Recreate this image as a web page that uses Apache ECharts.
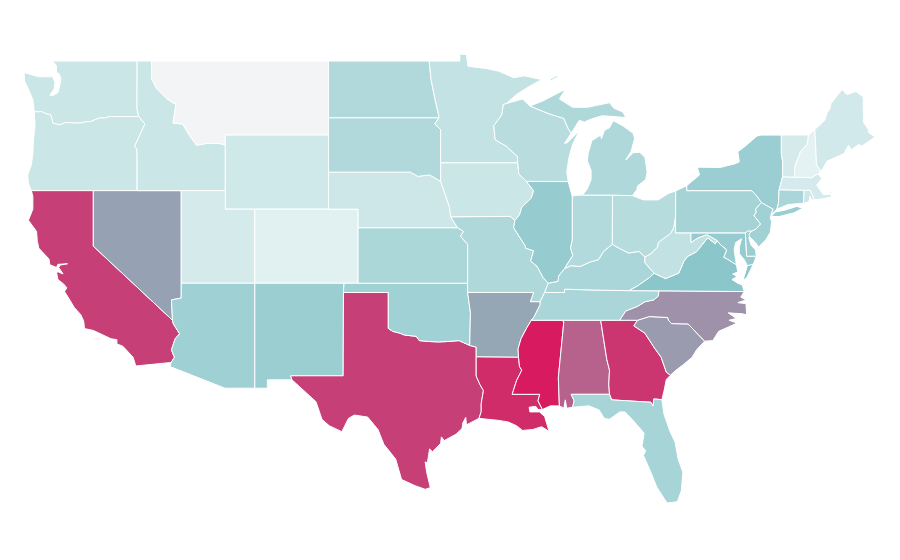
<!DOCTYPE html>
<html lang="en">
<head>
    <meta charset="utf-8">
    <title>USA map</title>
    <style>html,body{margin:0;background:#fff}</style>
</head>
<body>
<div id="main" style="width: 900px;height:560px;"></div>

<script src="https://cdn.jsdelivr.net/npm/echarts@6/dist/echarts.min.js"></script>
<script>
    // values, same order as the states. Montana has no value
    var stateNames = ['Washington','Oregon','California','Nevada','Idaho','Montana','Wyoming','Utah','Colorado','Arizona',
        'New Mexico','Texas','Oklahoma','Kansas','Nebraska','South Dakota','North Dakota','Minnesota','Iowa','Missouri',
        'Arkansas','Louisiana','Mississippi','Alabama','Georgia','Florida','South Carolina','North Carolina','Tennessee','Kentucky',
        'Virginia','West Virginia','Maryland','Delaware','Pennsylvania','New Jersey','New York','Connecticut','Rhode Island','Massachusetts',
        'Vermont','New Hampshire','Maine','Ohio','Indiana','Illinois','Wisconsin','Michigan'];
    var stateValues = [21.5,21.5,89,60,21.5,null,19.8,17.8,12.4,39.7,
        41.7,89,39.3,34.3,20.7,32.2,32.2,24.8,21.5,33,
        59,95,100,79,92,36.8,62,65,35,35,
        48.3,25.6,43.4,41.3,37.2,39.3,41.3,35,20.7,17.4,
        17.8,11,18.6,29.8,31.8,43.4,28.9,33];
    var scaleColors = ['#ffffff', '#86c4c8', '#d81b60'];

    // state borders as shared lon,lat lines, so neighbours use the same edge
    var arcs = {
        wa_top: '-122.76,49 -117.03,49',
        wa_id: '-117.03,49 -117.04,46.42 -116.92,46',
        wa_or: '-124,46.25 -123.5,46.27 -123.2,46.15 -122.9,46.1 -122.8,45.85 -122.75,45.65 -122.3,45.55 -121.9,45.68 -121.2,45.65 -120.9,45.65 -120.5,45.72 -120.2,45.73 -119.6,45.92 -119.1,45.93 -118.98,46 -116.92,46',
        wa_coast: '-122.76,49 -122.5,48.75 -122.5,48.4 -122.3,48.3 -122.2,48 -122.3,47.6 -122.4,47.3 -122.7,47.15 -122.95,47.15 -122.65,47.5 -122.6,47.85 -122.75,48.15 -123.1,48.15 -123.7,48.15 -124.7,48.38 -124.65,47.9 -124.3,47.3 -124.1,46.9 -124.05,46.3 -124,46.25',
        or_coast: '-124,46.25 -123.95,45.5 -124.05,44.8 -124.1,44 -124.2,43.4 -124.45,42.85 -124.4,42.4 -124.2,42',
        or_ca: '-120,42 -124.2,42',
        or_nv: '-117.03,42 -120,42',
        or_id: '-116.92,46 -116.5,45.6 -116.85,45 -117.2,44.4 -117.05,44.25 -117.03,43.8 -117.03,42',
        id_nv: '-117.03,42 -114.04,42',
        id_ut: '-114.04,42 -111.05,42',
        id_top: '-117.03,49 -116.05,49',
        id_mt: '-116.05,49 -116.05,48.05 -115.7,47.5 -115,46.95 -114.4,46.65 -114.6,45.65 -113.95,45.6 -113.45,44.95 -113,44.45 -112.3,44.55 -111.5,44.55 -111.05,44.48',
        id_wy: '-111.05,44.48 -111.05,42',
        mt_top: '-116.05,49 -104.05,49',
        mt_wy: '-104.05,45 -111.05,45 -111.05,44.48',
        mt_nd: '-104.05,49 -104.05,45.94',
        mt_sd: '-104.05,45.94 -104.05,45',
        sd_wy: '-104.05,45 -104.05,43',
        ne_wy: '-104.05,43 -104.05,41',
        wy_ut: '-111.05,42 -111.05,41 -109.05,41',
        wy_co: '-109.05,41 -104.05,41',
        ut_co: '-109.05,41 -109.05,37',
        az_ut: '-109.05,37 -114.04,37',
        nv_ut: '-114.04,42 -114.04,37',
        nv_az: '-114.04,37 -114.04,36.2 -114.7,36.1 -114.63,35',
        ca_nv: '-120,42 -120,39 -114.63,35',
        ca_az: '-114.63,35 -114.57,34.8 -114.15,34.27 -114.45,34 -114.7,33.4 -114.5,33 -114.72,32.72',
        ca_coast: '-124.2,42 -124.1,41.7 -124.1,41 -124.4,40.4 -123.85,39.8 -123.8,39.3 -123.7,38.9 -123,38.3 -122.95,38 -122.5,37.85 -122.4,38.02 -121.75,38.05 -122.25,37.98 -122.35,37.85 -122.05,37.5 -122.35,37.6 -122.5,37.6 -122.4,37.2 -122,36.95 -121.8,36.75 -121.95,36.55 -121.6,36.1 -121.3,35.7 -120.85,35.3 -120.65,34.95 -120.6,34.55 -120,34.45 -119.2,34.15 -118.8,34 -118.4,33.95 -118.4,33.72 -118,33.6 -117.3,33 -117.12,32.53 -114.72,32.72',
        az_south: '-114.72,32.72 -114.8,32.5 -111.07,31.33 -109.05,31.33',
        az_nm: '-109.05,37 -109.05,31.33',
        nm_co: '-103,37 -109.05,37',
        ok_co: '-102.05,37 -103,37',
        ks_co: '-102.05,40 -102.05,37',
        ne_co: '-104.05,41 -102.05,41 -102.05,40',
        nm_mex: '-109.05,31.33 -108.2,31.33 -108.2,31.78 -106.53,31.78',
        nm_tx: '-106.53,31.78 -106.62,32 -103.06,32 -103.04,36.5',
        nm_ok: '-103.04,36.5 -103,37',
        tx_ok: '-103.04,36.5 -100,36.5 -100,34.56 -99.7,34.4 -99.2,34.3 -98.9,34.2 -98.1,34.13 -97.9,33.9 -97.2,33.85 -96.6,33.83 -96,33.85 -95.2,33.9 -94.48,33.64',
        tx_ar: '-94.48,33.64 -94.04,33.55 -94.04,33.02',
        tx_la: '-94.04,33.02 -94.04,31.99 -93.8,31.55 -93.55,31.2 -93.7,30.5 -93.7,30.06 -93.85,29.7',
        tx_coast: '-93.85,29.7 -94.7,29.35 -94.75,29.75 -94.95,29.45 -95,29.15 -95.4,28.85 -96.2,28.5 -96.4,28.7 -96.45,28.35 -97,27.9 -97.2,28.05 -97.35,27.3 -97.5,27.35 -97.4,26.8 -97.15,25.96',
        tx_mex: '-97.15,25.96 -97.5,25.87 -98.2,26.07 -99.1,26.4 -99.5,27.5 -100.3,28.3 -100.7,29.1 -101.4,29.77 -102.3,29.88 -102.7,29.7 -103.15,28.98 -104,29.3 -104.5,29.65 -104.9,30.6 -106,31.4 -106.53,31.78',
        ok_ar: '-94.62,36.5 -94.43,35.4 -94.48,33.64',
        mo_ok: '-94.62,36.5 -94.62,37',
        ks_ok: '-94.62,37 -102.05,37',
        ks_mo: '-94.62,37 -94.62,39.1 -94.9,39.35 -95.1,39.55 -94.9,39.8 -95.3,40',
        ne_ks: '-95.3,40 -102.05,40',
        ne_mo: '-95.3,40 -95.77,40.58',
        ne_ia: '-95.77,40.58 -95.85,41.1 -96.1,41.7 -96.45,42.5',
        sd_ne: '-96.45,42.5 -97.2,42.85 -98,42.77 -98.5,43 -104.05,43',
        sd_ia: '-96.45,42.5 -96.45,43.5',
        sd_nd: '-96.56,45.94 -104.05,45.94',
        sd_mn: '-96.56,45.94 -96.85,45.6 -96.45,45.3 -96.45,43.5',
        nd_top: '-104.05,49 -97.23,49',
        nd_mn: '-97.23,49 -97.1,48 -96.85,47 -96.56,46 -96.56,45.94',
        mn_north: '-92,46.7 -91.3,47.2 -90.4,47.65 -89.6,48 -90.8,48.2 -91.5,48.1 -92.5,48.45 -93.4,48.6 -94.6,48.72 -94.7,49.35 -95.15,49.38 -95.15,49 -97.23,49',
        ia_mn: '-91.22,43.5 -96.45,43.5',
        mn_wi: '-91.22,43.5 -91.25,43.85 -92,44.4 -92.75,44.75 -92.85,45.5 -92.3,46.1 -92.2,46.65 -92,46.7',
        ia_wi: '-90.64,42.5 -91.15,42.9 -91.22,43.5',
        ia_il: '-91.42,40.38 -91.1,40.7 -90.95,41.1 -90.3,41.6 -90.15,42 -90.64,42.5',
        ia_mo: '-95.77,40.58 -91.73,40.61 -91.42,40.38',
        il_mo: '-91.42,40.38 -91.5,40 -90.7,39 -90.7,38.9 -90.15,38.75 -90.35,38.2 -89.9,37.9 -89.5,37.3 -89.15,37',
        ky_mo: '-89.15,37 -89.4,36.5',
        tn_mo: '-89.4,36.5 -89.7,36',
        mo_ar: '-89.7,36 -90.37,36 -90.15,36.5 -94.62,36.5',
        ar_tn: '-89.7,36 -89.7,35.85 -90.1,35.2 -90.3,35',
        ar_ms: '-90.3,35 -90.6,34.6 -91,34 -91.2,33.45 -91.17,33',
        ar_la: '-94.04,33.02 -91.17,33',
        la_ms: '-91.17,33 -91.1,32.5 -90.95,32.3 -91.3,31.75 -91.6,31 -89.73,31 -89.85,30.65 -89.55,30.18',
        la_coast: '-93.85,29.7 -92.6,29.6 -92.2,29.55 -91.85,29.5 -91.3,29.3 -90.9,29.05 -90.2,29.1 -89.6,29.25 -89.1,29 -89.4,29.8 -89.75,30.05 -90.4,30.05 -90.45,30.3 -90,30.35 -89.85,30.18 -89.55,30.18',
        ms_coast: '-89.55,30.18 -89,30.38 -88.4,30.37',
        ms_al: '-88.4,30.37 -88.47,31.9 -88.1,34.9 -88.2,35',
        ms_tn: '-90.3,35 -88.2,35',
        al_tn: '-88.2,35 -85.6,35',
        ga_tn: '-85.6,35 -84.32,35',
        ga_nc: '-84.32,35 -83.1,35',
        al_ga: '-85.6,35 -85.18,32.87 -85,32.3 -85.05,31.55 -85,31',
        al_fl: '-85,31 -87.6,31 -87.4,30.65 -87.5,30.3',
        al_coast: '-88.4,30.37 -88.1,30.25 -88,30.7 -87.9,30.25 -87.5,30.3',
        ga_fl: '-85,31 -84.86,30.7 -82.2,30.57 -82.05,30.36 -82,30.75 -81.45,30.71',
        fl_coast: '-81.45,30.71 -81.3,29.9 -80.9,29 -80.55,28.4 -80.35,27.5 -80.03,26.8 -80.13,25.8 -80.4,25.2 -81.1,25.13 -81.8,26 -82.2,26.8 -82.7,27.7 -82.55,27.95 -82.8,28.2 -82.65,28.9 -83.3,29.5 -83.95,30.05 -84.3,30.05 -85,29.65 -85.35,29.7 -85.7,30.15 -86.4,30.38 -87.5,30.3',
        ga_coast: '-81.45,30.71 -81.3,31.2 -81.15,31.8 -80.87,32.03',
        ga_sc: '-80.87,32.03 -81.15,32.2 -81.5,33 -81.95,33.5 -82.6,34.3 -83.35,34.7 -83.1,35',
        nc_sc: '-83.1,35 -82.3,35.2 -81.05,35.15 -81,35 -80.8,34.82 -79.67,34.8 -78.55,33.87',
        sc_coast: '-78.55,33.87 -79.1,33.4 -79.4,33 -80,32.6 -80.5,32.3 -80.87,32.03',
        nc_coast: '-78.55,33.87 -78,33.9 -77.6,34.4 -76.9,34.65 -76.35,34.85 -76.9,35 -76.4,35.1 -76.95,35.4 -76,35.35 -75.7,35.3 -75.75,35.9 -76.3,35.95 -75.75,36.1 -76.1,36.25 -75.87,36.55',
        va_nc: '-75.87,36.55 -81.65,36.59',
        tn_nc: '-81.65,36.59 -81.7,36.3 -82,36.1 -82.6,36 -83.1,35.75 -83.9,35.5 -84.32,35',
        va_tn: '-81.65,36.59 -83.68,36.6',
        va_ky: '-83.68,36.6 -83.1,36.85 -82.3,37.3 -81.97,37.54',
        ky_tn: '-89.4,36.5 -88.06,36.5 -88.05,36.68 -86,36.63 -83.68,36.6',
        wv_va: '-81.97,37.54 -81.2,37.25 -80.3,37.55 -79.95,38.2 -79.7,38.45 -79.1,38.7 -78.35,39.45 -77.83,39.13 -77.72,39.32',
        md_va: '-77.72,39.32 -77.5,39.1 -77.05,38.8 -77.25,38.4 -77,38.3 -76.4,38',
        va_coast: '-76.4,38 -76.3,37.6 -76.65,37.5 -76.35,37.35 -76.7,37.2 -76.3,37 -76,36.9 -75.87,36.55',
        md_wv: '-79.48,39.72 -79.48,39.2 -79,39.45 -78.4,39.62 -77.72,39.32',
        pa_wv2: '-80.52,39.72 -79.48,39.72',
        pa_wv1: '-80.52,40.64 -80.52,39.72',
        pa_md: '-79.48,39.72 -75.79,39.72',
        pa_oh: '-80.52,41.98 -80.52,40.64',
        wv_oh: '-80.52,40.64 -80.65,40 -80.85,39.7 -81.7,39.2 -81.75,38.95 -82.2,38.6 -82.6,38.42',
        ky_wv: '-82.6,38.42 -82.6,38.1 -81.97,37.54',
        ky_oh: '-82.6,38.42 -83,38.72 -83.7,38.63 -84.25,38.85 -84.82,39.1',
        ky_in: '-84.82,39.1 -85.4,38.72 -85.75,38.27 -86.3,38.15 -87,37.9 -87.6,37.95 -88.05,37.8',
        ky_il: '-88.05,37.8 -88.45,37.4 -88.5,37.1 -89.15,37',
        wi_north: '-92,46.7 -90.9,46.95 -90.4,46.57',
        wi_mi: '-90.4,46.57 -89.1,46.15 -88.1,45.9 -87.8,45.35 -87.6,45.1',
        wi_east: '-87.6,45.1 -88.05,44.55 -87.85,44.6 -87.05,45.25 -87.5,44.5 -87.75,43.8 -87.9,43 -87.8,42.49',
        wi_il: '-87.8,42.49 -90.64,42.5',
        il_lake: '-87.8,42.49 -87.55,41.75 -87.53,41.7',
        il_in: '-87.53,41.7 -87.53,39.35 -87.65,38.9 -87.5,38.5 -88.05,37.8',
        in_lake: '-87.53,41.7 -87.2,41.75 -86.82,41.76',
        in_mi: '-86.82,41.76 -84.8,41.76',
        in_oh: '-84.8,41.76 -84.82,39.1',
        mi_oh: '-84.8,41.76 -83.45,41.73',
        mi_lower: '-86.82,41.76 -86.5,42.1 -86.25,42.6 -86.25,43.1 -86.5,43.6 -86.45,44 -86.2,44.7 -85.6,45 -85.55,44.8 -85.35,45.25 -85,45.4 -84.75,45.78 -84.1,45.5 -83.4,45.1 -83.3,44.8 -83.55,44.1 -83.9,43.65 -83.4,44.05 -82.95,44.07 -82.6,43.8 -82.45,43 -82.55,42.6 -83.1,42.25 -83.15,42.05 -83.45,41.73',
        up_coast: '-90.4,46.57 -89.5,46.85 -88.9,47.1 -88,47.47 -88.4,46.95 -87.5,46.5 -86.5,46.5 -85,46.75 -84.7,46.45 -84.1,46.25 -83.9,45.95 -84.7,46 -85.5,46.05 -86.3,45.85 -86.7,45.7 -87.05,45.8 -87.6,45.1',
        oh_lake: '-83.45,41.73 -82.7,41.5 -81.7,41.5 -81,41.85 -80.52,41.98',
        pa_lake: '-80.52,41.98 -79.76,42.27',
        pa_ny: '-79.76,42.27 -79.76,42 -75.35,42 -75.05,41.75 -74.7,41.36',
        pa_nj: '-74.7,41.36 -75.1,41 -75.05,40.85 -75.2,40.65 -74.75,40.2 -75.1,39.9 -75.4,39.8',
        pa_de: '-75.4,39.8 -75.6,39.84 -75.79,39.72',
        de_md: '-75.79,39.72 -75.7,38.46',
        de_south: '-75.7,38.46 -75.05,38.46',
        de_coast: '-75.4,39.8 -75.55,39.45 -75.4,39.05 -75.1,38.8 -75.05,38.46',
        md_shore: '-75.05,38.46 -75.25,38.03 -75.65,37.95 -75.85,38.25 -76.2,38.6 -76.2,38.95 -76.05,39.4 -76.45,39.2 -76.55,38.8 -76.45,38.3 -76.4,38',
        nj_coast: '-74.05,40.7 -74.1,40.45 -74,40.4 -74.1,39.75 -74.4,39.35 -74.9,38.95 -75.1,39.2 -75.5,39.5 -75.55,39.65 -75.4,39.8',
        nj_ny: '-74.7,41.36 -73.9,41 -74.05,40.7',
        ny_lake: '-79.76,42.27 -78.9,42.85 -79.05,43.27 -77.5,43.25 -76.5,43.45 -76.2,43.55 -76.3,44.1 -75.8,44.4 -75,44.95 -74.7,45 -73.35,45',
        ny_vt: '-73.35,45 -73.35,44 -73.25,43.5 -73.27,42.75',
        ny_ma: '-73.27,42.75 -73.5,42.05',
        ny_ct: '-73.5,42.05 -73.55,41.3 -73.65,41',
        ny_city: '-73.65,41 -74.05,40.7',
        ct_ma: '-73.5,42.05 -71.8,42.02',
        ct_ri: '-71.8,42.02 -71.85,41.32',
        ct_coast: '-71.85,41.32 -72.9,41.25 -73.65,41',
        ri_ma: '-71.8,42.02 -71.38,42.02 -71.33,41.9 -71.2,41.7 -71.12,41.5',
        ri_coast: '-71.85,41.32 -71.5,41.38 -71.4,41.7 -71.3,41.5 -71.12,41.5',
        vt_ma: '-73.27,42.75 -72.46,42.73',
        nh_ma: '-72.46,42.73 -71.3,42.7 -71,42.87 -70.82,42.87',
        ma_coast: '-70.82,42.87 -70.6,42.65 -70.95,42.3 -70.65,41.95 -70.5,41.78 -70,41.8 -70.2,42.07 -69.95,41.9 -69.97,41.65 -70.6,41.55 -71.12,41.5',
        vt_top: '-73.35,45 -71.5,45.01',
        vt_nh: '-72.46,42.73 -72.45,43.2 -72.3,43.6 -72.05,44.1 -71.6,44.5 -71.5,45.01',
        nh_top: '-71.5,45.01 -71.08,45.3',
        nh_me: '-71.08,45.3 -71.03,44.6 -70.97,43.4 -70.7,43.07',
        nh_coast: '-70.7,43.07 -70.82,42.87',
        me_out: '-71.08,45.3 -70.4,45.8 -70.25,46.2 -70.05,46.42 -69.99,46.7 -69.23,47.46 -68.9,47.18 -68.3,47.36 -67.8,47.07 -67.78,45.7 -67.45,45.3 -67.45,45.15 -67,44.9 -67.9,44.4 -68.1,44.5 -68.6,44.2 -68.8,44.45 -69.1,44 -69.8,43.75 -70.25,43.6 -70.6,43.1 -70.7,43.07'
    };

    // which lines close each state
    var stateArcs = {
        'Washington': 'wa_top wa_id wa_or wa_coast',
        'Oregon': 'wa_or or_id or_nv or_ca or_coast',
        'California': 'or_ca ca_nv ca_az ca_coast',
        'Nevada': 'or_nv id_nv nv_ut nv_az ca_nv',
        'Idaho': 'id_top id_mt id_wy id_ut id_nv or_id wa_id',
        'Montana': 'mt_top mt_nd mt_sd mt_wy id_mt',
        'Wyoming': 'mt_wy id_wy wy_ut wy_co ne_wy sd_wy',
        'Utah': 'id_ut wy_ut ut_co az_ut nv_ut',
        'Colorado': 'wy_co ne_co ks_co ok_co nm_co ut_co',
        'Arizona': 'az_ut nv_az ca_az az_south az_nm',
        'New Mexico': 'nm_co az_nm nm_mex nm_tx nm_ok',
        'Texas': 'nm_tx tx_ok tx_ar tx_la tx_coast tx_mex',
        'Oklahoma': 'nm_ok tx_ok ok_ar mo_ok ks_ok ok_co',
        'Kansas': 'ks_co ne_ks ks_mo ks_ok',
        'Nebraska': 'ne_wy ne_co ne_ks ne_mo ne_ia sd_ne',
        'South Dakota': 'sd_nd mt_sd sd_wy sd_ne sd_ia sd_mn',
        'North Dakota': 'nd_top nd_mn sd_nd mt_nd',
        'Minnesota': 'mn_north nd_mn sd_mn ia_mn mn_wi',
        'Iowa': 'ia_mn sd_ia ne_ia ia_mo ia_il ia_wi',
        'Missouri': 'ia_mo il_mo ky_mo tn_mo mo_ar mo_ok ks_mo ne_mo',
        'Arkansas': 'mo_ar ok_ar tx_ar ar_la ar_ms ar_tn',
        'Louisiana': 'ar_la la_ms la_coast tx_la',
        'Mississippi': 'ar_ms ms_tn ms_al ms_coast la_ms',
        'Alabama': 'ms_al al_tn al_ga al_fl al_coast',
        'Georgia': 'al_ga ga_tn ga_nc ga_sc ga_coast ga_fl',
        'Florida': 'ga_fl fl_coast al_fl',
        'South Carolina': 'ga_sc nc_sc sc_coast',
        'North Carolina': 'ga_nc nc_sc nc_coast va_nc tn_nc',
        'Tennessee': 'ms_tn al_tn ga_tn tn_nc va_tn ky_tn tn_mo ar_tn',
        'Kentucky': 'ky_tn va_ky ky_wv ky_oh ky_in ky_il ky_mo',
        'Virginia': 'va_nc va_tn va_ky wv_va md_va va_coast',
        'West Virginia': 'pa_wv1 pa_wv2 md_wv wv_va ky_wv wv_oh',
        'Maryland': 'pa_md de_md de_south md_shore md_va md_wv',
        'Delaware': 'de_md de_south de_coast pa_de',
        'Pennsylvania': 'pa_lake pa_ny pa_nj pa_de pa_md pa_wv2 pa_wv1 pa_oh',
        'New Jersey': 'pa_nj nj_coast nj_ny',
        'New York': 'ny_lake ny_vt ny_ma ny_ct ny_city nj_ny pa_ny',
        'Connecticut': 'ny_ct ct_ma ct_ri ct_coast',
        'Rhode Island': 'ct_ri ri_ma ri_coast',
        'Massachusetts': 'vt_ma nh_ma ma_coast ri_ma ct_ma ny_ma',
        'Vermont': 'vt_top vt_nh vt_ma ny_vt',
        'New Hampshire': 'nh_top nh_me nh_coast nh_ma vt_nh',
        'Maine': 'me_out nh_me',
        'Ohio': 'oh_lake pa_oh wv_oh ky_oh in_oh mi_oh',
        'Indiana': 'in_lake in_mi in_oh ky_in il_in',
        'Illinois': 'wi_il ia_il il_mo ky_il il_in il_lake',
        'Wisconsin': 'wi_north wi_mi wi_east wi_il ia_wi mn_wi',
        'Michigan': 'mi_lower mi_oh in_mi'
    };

    // islands that are not part of any shared line
    var extraRings = {
        'California': ['-119.95,34.02 -119.55,34.03 -119.55,33.97 -119.95,33.97 -119.95,34.02', '-118.55,33.45 -118.35,33.35 -118.4,33.3 -118.6,33.42 -118.55,33.45'],
        'Virginia': ['-75.25,38.03 -75.65,37.95 -75.95,37.15 -75.7,37.3 -75.25,38.03'],
        'New York': ['-74.05,40.6 -73.75,40.85 -73.1,40.95 -72.3,41.15 -71.9,41.05 -72.5,40.8 -73.5,40.6 -74.05,40.6'],
        'Michigan': ['-88.95,47.95 -88.5,48.15 -88.6,48.2 -89.05,48 -88.95,47.95']
    };

    function parseLine(s) {
        return s.split(' ').map(function (p) {
            return p.split(',').map(Number);
        });
    }

    function same(a, b) {
        return a[0] === b[0] && a[1] === b[1];
    }

    // chain the named lines head to tail, flipping each one as needed
    function buildRing(names) {
        var pts = [];
        names.forEach(function (n, i) {
            var line = parseLine(arcs[n]);
            if (i === 0) {
                var next = parseLine(arcs[names[1]]);
                var end = line[line.length - 1];
                if (!same(end, next[0]) && !same(end, next[next.length - 1])) line.reverse();
                pts = line;
            } else {
                var last = pts[pts.length - 1];
                if (!same(last, line[0])) line.reverse();
                if (!same(last, line[0])) throw new Error('border does not join at ' + n);
                pts = pts.concat(line.slice(1));
            }
        });
        pts.push(pts[0]);
        return pts;
    }

    var features = stateNames.map(function (name) {
        var polys = [[buildRing(stateArcs[name].split(' '))]];
        if (name === 'Michigan') polys.push([buildRing(['wi_mi', 'up_coast'])]);
        (extraRings[name] || []).forEach(function (s) {
            polys.push([parseLine(s)]);
        });
        return {
            type: 'Feature',
            properties: {name: name},
            geometry: {type: 'MultiPolygon', coordinates: polys}
        };
    });
    echarts.registerMap('USA', {type: 'FeatureCollection', features: features});

    var seriesData = [];
    stateNames.forEach(function (name, i) {
        if (stateValues[i] !== null) seriesData.push({name: name, value: stateValues[i]});
    });

    var myChart = echarts.init(document.getElementById('main'));

    var option = {
        animation: false,
        visualMap: {
            show: false,
            min: 0,
            max: 100,
            inRange: {color: scaleColors}
        },
        series: [
            {
                type: 'map',
                map: 'USA',
                roam: false,
                aspectScale: 0.796,
                left: 24,
                right: 25,
                top: 54,
                bottom: 57,
                silent: true,
                label: {show: false},
                itemStyle: {areaColor: '#f3f4f6', borderColor: '#fff', borderWidth: 1},
                data: seriesData
            }
        ]
    };

    myChart.setOption(option);
</script>
</body>
</html>
